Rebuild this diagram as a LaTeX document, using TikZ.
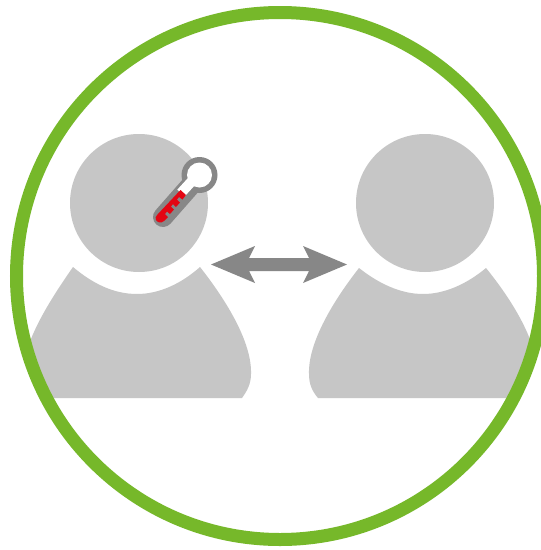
\documentclass[tikz,border=0pt]{standalone}
\definecolor{ringgreen}{HTML}{76B82A}
\definecolor{personfill}{HTML}{C6C6C6}
\definecolor{arrowgrey}{HTML}{878787}
\definecolor{mercury}{HTML}{E30613}
\begin{document}
\begin{tikzpicture}[x=0.75pt,y=-0.75pt]
\useasboundingbox (0,0) rectangle (541,550);
\fill[white] (0,0) rectangle (541,550);
\begin{scope}
\clip (280,276) circle[radius=263.5];
% left person
\fill[personfill] (139,203) circle[radius=69];
\fill[personfill] (73,267) .. controls (92,283) and (113,294) .. (137,294)
  .. controls (160,294) and (182,283) .. (200,267)
  .. controls (226,300) and (252,342) .. (251,374)
  .. controls (251,384) and (247,391) .. (242,398)
  -- (32,398) .. controls (27,391) and (23,384) .. (23,374)
  .. controls (23,342) and (50,300) .. (73,267) -- cycle;
% right person
\fill[personfill] (359,268) .. controls (378,283) and (400,294) .. (423,294)
  .. controls (446,294) and (468,283) .. (486,268)
  .. controls (512,300) and (538,342) .. (537,374)
  .. controls (537,384) and (533,391) .. (528,398)
  -- (318,398) .. controls (312,391) and (309,384) .. (309,374)
  .. controls (308,342) and (334,300) .. (359,268) -- cycle;
\fill[personfill] (425,203) circle[radius=69];
\end{scope}
% ring
\draw[ringgreen,line width=9.75pt] (280,276) circle[radius=263.5];
% double arrow
\fill[arrowgrey] (211,264.5) -- (255,246) -- (249,258) -- (309,258) -- (303,246) -- (347,264.5)
  -- (303,283) -- (309,271) -- (249,271) -- (255,283) -- cycle;
% thermometer
\fill[arrowgrey] (199.5,175) circle[radius=18];
\draw[arrowgrey,line width=15pt,line cap=round] (163,217) -- (192,184);
\fill[white] (199.5,175) circle[radius=12.5];
\draw[white,line width=7.5pt] (181,193) -- (192,181);
\fill[mercury] (157.5,214.5) -- (180.5,190) -- (186,195) -- (182.5,199.5) -- (179,197) -- (177,199.5)
  -- (180,202.5) -- (176,207) -- (173,204) -- (171,206.5) -- (174,209.5) -- (170,214)
  -- (167,211.5) -- (165,214) -- (168,217) -- (164,221)
  .. controls (161,224) and (157,222) .. (156,220) .. controls (155,218) and (155.5,216.5) .. (157.5,214.5) -- cycle;
\end{tikzpicture}
\end{document}
